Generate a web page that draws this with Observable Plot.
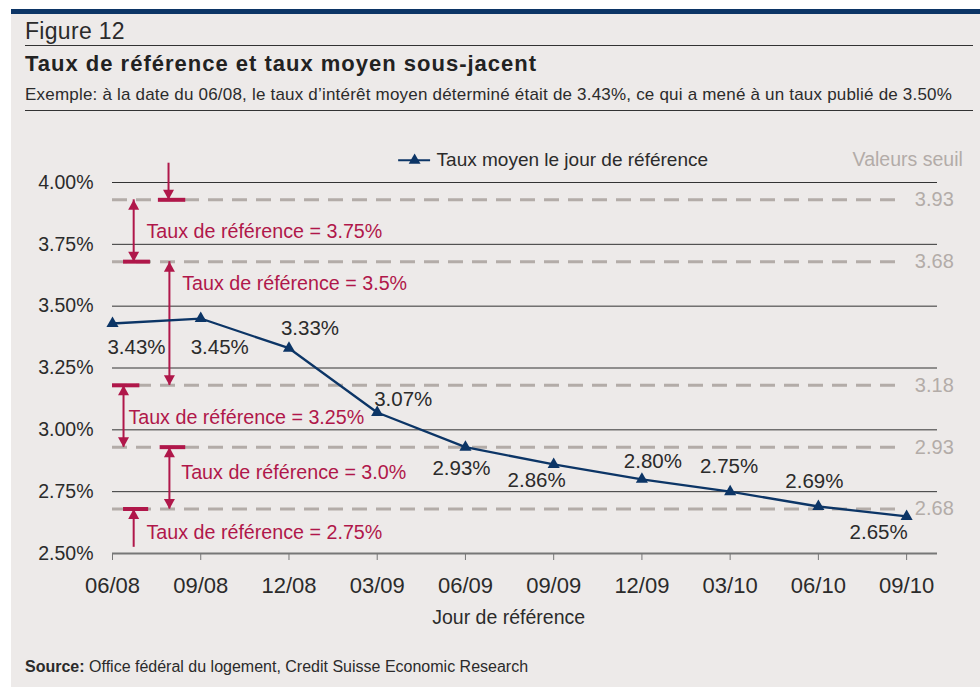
<!DOCTYPE html>
<html>
<head>
<meta charset="utf-8">
<script src="https://cdn.jsdelivr.net/npm/d3@7"></script>
<script src="https://cdn.jsdelivr.net/npm/@observablehq/plot@0.6"></script>
<style>
  body { margin: 0; background: #ffffff; font-family: "Liberation Sans", Arial, sans-serif; color: #2b2b2b; }
  #page { position: relative; width: 980px; height: 691px; overflow: hidden; }
  #bg { position: absolute; left: 11px; top: 9px; width: 969px; height: 678px; background: #edeae9; border-top: 5px solid #0c3566; box-sizing: border-box; }
  .abs { position: absolute; white-space: nowrap; line-height: 1; }
  #fig { left: 25px; top: 20px; font-size: 23px; color: #2b2b2b; letter-spacing: 0.3px; }
  .hr { position: absolute; left: 25px; width: 948px; height: 1px; background: #333; }
  #title { left: 25px; top: 53px; font-size: 22px; font-weight: bold; color: #222; letter-spacing: 1px; }
  #sub { left: 25px; top: 86px; font-size: 17px; color: #2b2b2b; letter-spacing: 0.2px; }
  #chart { position: absolute; left: 0; top: 120px; }
  #source { left: 25px; top: 659px; font-size: 16px; color: #2b2b2b; }
</style>
</head>
<body>
<div id="page">
  <div id="bg"></div>
  <div class="abs" id="fig">Figure 12</div>
  <div class="hr" style="top:45px"></div>
  <div class="abs" id="title">Taux de référence et taux moyen sous-jacent</div>
  <div class="abs" id="sub">Exemple: à la date du 06/08, le taux d’intérêt moyen déterminé était de 3.43%, ce qui a mené à un taux publié de 3.50%</div>
  <div class="hr" style="top:110px"></div>
  <div id="chart"></div>
  <div class="abs" id="source"><b>Source:</b> Office fédéral du logement, Credit Suisse Economic Research</div>
</div>
<script>
// ---- data ----
const dates = ["06/08", "09/08", "12/08", "03/09", "06/09", "09/09", "12/09", "03/10", "06/10", "09/10"];
const rates = [3.43, 3.45, 3.33, 3.07, 2.93, 2.86, 2.80, 2.75, 2.69, 2.65];
const thresholds = [3.93, 3.68, 3.18, 2.93, 2.68];
const yTicks = [2.5, 2.75, 3.0, 3.25, 3.5, 3.75, 4.0];
const gridValues = [2.75, 3.0, 3.25, 3.5, 3.75, 4.0];
const seriesName = "Taux moyen le jour de référence";
const thresholdTitle = "Valeurs seuil";
const axisTitle = "Jour de référence";
// reference-rate bands (annotation, in data units: x = quarter index, y = rate)
const refLabels = ["Taux de référence = 3.75%", "Taux de référence = 3.5%", "Taux de référence = 3.25%", "Taux de référence = 3.0%", "Taux de référence = 2.75%"];
const refLabelX = [0.385, 0.79, 0.18, 0.78, 0.385];
const refLabelY = [3.803, 3.589, 3.05, 2.828, 2.585];
const arrowX = [0.635, 0.24, 0.645, 0.125, 0.645, 0.24];
const arrowTop = [4.078, 3.93, 3.68, 3.18, 2.93, 2.68];
const arrowBottom = [3.93, 3.68, 3.18, 2.93, 2.68, 2.525];
const headUp = [false, true, true, true, true, true];
const headDown = [true, true, true, true, true, false];
const barX1 = [0.52, 0.125, 0.0, 0.54, 0.125];
const barX2 = [0.83, 0.43, 0.31, 0.83, 0.41];
// label offsets (px) for each point label
const labelDx = [24, 19, 21, 26, -4, -17, 11, -1, -4, -28];
const labelDy = [24, 29, -20, -13, 21, 16, -18, -25, -25, 16];

// ---- styles ----
const navy = "#0c3566";
const crimson = "#b0174a";
const grayDash = "#b3aca8";
const textCol = "#2b2b2b";
const FS = 19.5;

const upTri = { draw(ctx) { ctx.moveTo(0, 0); ctx.lineTo(-5.5, 10); ctx.lineTo(5.5, 10); ctx.closePath(); } };
const downTri = { draw(ctx) { ctx.moveTo(0, 0); ctx.lineTo(-5.5, -10); ctx.lineTo(5.5, -10); ctx.closePath(); } };

const idx = dates.map((d, i) => i);
const arrows = arrowX.map((x, i) => ({ x, top: arrowTop[i], bottom: arrowBottom[i], up: headUp[i], down: headDown[i] }));
const bars = thresholds.map((y, i) => ({ y, x1: barX1[i], x2: barX2[i] }));
const refs = refLabels.map((t, i) => ({ t, x: refLabelX[i], y: refLabelY[i] }));

const xMax = 9.35;
const dashEnd = 8.97;
const legendY = 4.09;

const chart = Plot.plot({
  width: 980,
  height: 520,
  marginLeft: 112,
  marginRight: 43,
  marginTop: 62,
  marginBottom: 87,
  style: { background: "transparent", fontFamily: "'Liberation Sans', Arial, sans-serif", fontSize: FS + "px", color: textCol, overflow: "visible" },
  x: { domain: [0, xMax] },
  y: { domain: [2.5, 4.0] },
  marks: [
    // gridlines
    Plot.ruleY(gridValues, { x1: 0, x2: xMax, stroke: "#333", strokeWidth: 1 }),
    // threshold dashed lines
    Plot.ruleY(thresholds, { x1: 0, x2: dashEnd, stroke: grayDash, strokeWidth: 3, strokeDasharray: "15,9" }),
    Plot.text(thresholds, { x: 9.093, y: d => d, text: d => d.toFixed(2), textAnchor: "start", fill: grayDash, fontSize: 20 }),
    Plot.text([thresholdTitle], { x: 9.637, y: legendY, text: d => d, textAnchor: "end", fill: grayDash, fontSize: FS }),
    // x axis baseline
    Plot.ruleY([2.5], { x1: 0, x2: xMax, stroke: "#777", strokeWidth: 2 }),
    Plot.axisX({ ticks: idx, tickFormat: i => dates[i], tickSize: 7, tickPadding: 17, stroke: "#777", fill: textCol, fontSize: 22, label: null }),
    Plot.axisY({ ticks: yTicks, tickFormat: d => d.toFixed(2) + "%", tickSize: 0, tickPadding: 19, fill: textCol, fontSize: FS, label: null }),
    Plot.text([axisTitle], { x: 4.49, frameAnchor: "bottom", dy: 70, text: d => d, fill: textCol, fontSize: FS }),
    // reference-rate annotations
    Plot.ruleY(bars, { y: "y", x1: "x1", x2: "x2", stroke: crimson, strokeWidth: 4 }),
    Plot.ruleX(arrows, { x: "x", y1: "top", y2: "bottom", stroke: crimson, strokeWidth: 2 }),
    Plot.dot(arrows.filter(a => a.up), { x: "x", y: "top", symbol: upTri, fill: crimson, stroke: "none" }),
    Plot.dot(arrows.filter(a => a.down), { x: "x", y: "bottom", symbol: downTri, fill: crimson, stroke: "none" }),
    Plot.text(refs, { x: "x", y: "y", text: "t", textAnchor: "start", fill: crimson, fontSize: 19.7 }),
    // series
    Plot.line(idx, { x: i => i, y: i => rates[i], stroke: navy, strokeWidth: 2.3 }),
    Plot.dot(idx, { x: i => i, y: i => rates[i], symbol: "triangle", r: 4.5, fill: navy, stroke: "none" }),
    ...idx.map(i => Plot.text([i], { x: d => d, y: d => rates[d], text: d => rates[d].toFixed(2) + "%", dx: labelDx[i], dy: labelDy[i], fill: textCol, fontSize: 20.5 })),
    // legend
    Plot.ruleY([legendY], { x1: 3.243, x2: 3.605, stroke: navy, strokeWidth: 2 }),
    Plot.dot([legendY], { x: 3.424, y: d => d, symbol: "triangle", r: 4.4, fill: navy, stroke: "none" }),
    Plot.text([seriesName], { x: 3.673, y: legendY, text: d => d, textAnchor: "start", fill: textCol, fontSize: 19 })
  ]
});
document.getElementById("chart").appendChild(chart);
</script>
</body>
</html>
